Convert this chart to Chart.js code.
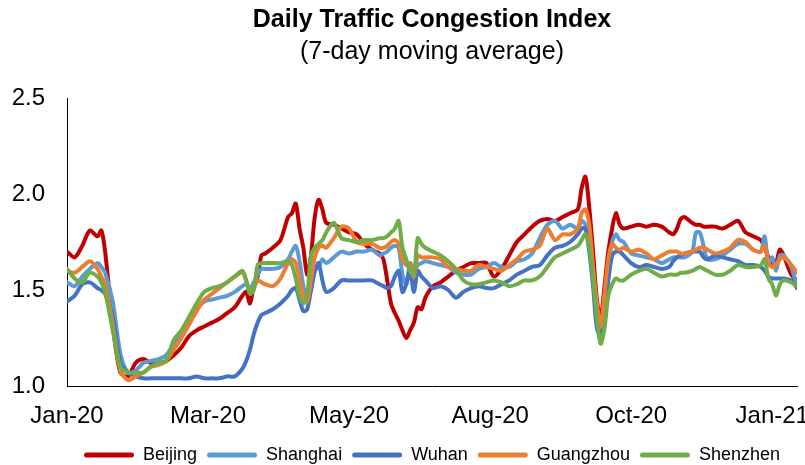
<!DOCTYPE html>
<html>
<head>
<meta charset="utf-8">
<script src="https://cdn.jsdelivr.net/npm/chart.js@4.4.1/dist/chart.umd.min.js"></script>
<style>
  html, body { margin: 0; padding: 0; background: #fff; }
  #wrap { width: 805px; height: 465px; }
</style>
</head>
<body>
<div id="wrap"><canvas id="trafficChart"></canvas></div>
<script>
// day offsets from 1 Jan 2020
const days = [
  0, 4, 8, 12, 16, 18, 20, 24,
  28, 32, 36, 40, 44, 48, 52, 56, 60, 64, 68, 72, 76, 80, 84, 88, 92,
  94, 96, 98, 100, 102, 104,
  108, 112, 116, 118, 120, 122, 124, 126, 128, 130, 132, 134, 136,
  140, 144, 148, 152, 156, 160, 164,
  166, 168, 170, 172, 174, 176, 178, 180, 182, 184, 186, 188,
  192, 196, 200, 204, 208, 212, 216, 220, 224, 228, 232, 236, 240, 244, 248, 252, 256, 260, 264, 268,
  270, 272, 274, 276, 278, 280, 282, 284, 286, 288, 290, 292,
  296, 300, 304, 308, 312, 316,
  318, 320, 322, 324,
  328, 330, 332, 334, 336,
  340, 344, 348, 352, 356, 360, 364,
  366, 368, 370, 372, 374, 376,
  380, 383
];

const tickDays = [0, 74, 148, 222, 296, 370];
const tickLabels = ['Jan-20', 'Mar-20', 'May-20', 'Aug-20', 'Oct-20', 'Jan-21'];

const beijing = [
  1.70, 1.67, 1.73, 1.81, 1.78, 1.81, 1.70, 1.32,
  1.07, 1.05, 1.12, 1.14, 1.12, 1.12, 1.13, 1.16, 1.20, 1.26, 1.29, 1.31, 1.33, 1.35, 1.38, 1.41, 1.47,
  1.49, 1.43, 1.52, 1.57, 1.68, 1.69,
  1.72, 1.76, 1.88, 1.90, 1.95, 1.82, 1.72, 1.58, 1.68, 1.88, 1.97, 1.92, 1.85,
  1.84, 1.82, 1.80, 1.79, 1.74, 1.71, 1.69,
  1.66, 1.55, 1.43, 1.38, 1.34, 1.29, 1.25, 1.29, 1.33, 1.41, 1.40, 1.46,
  1.52, 1.54, 1.57, 1.60, 1.62, 1.64, 1.64, 1.64, 1.57, 1.61, 1.68, 1.75, 1.79, 1.83, 1.86, 1.87, 1.86, 1.88, 1.90, 1.92,
  2.03, 2.09, 1.93, 1.70, 1.45, 1.35, 1.52, 1.70, 1.82, 1.90, 1.84, 1.82,
  1.83, 1.84, 1.83, 1.84, 1.83, 1.80,
  1.79, 1.82, 1.87, 1.88,
  1.85, 1.84, 1.84, 1.83, 1.83,
  1.83, 1.82, 1.84, 1.86, 1.80, 1.78, 1.76,
  1.72, 1.67, 1.63, 1.64, 1.71, 1.68,
  1.58, 1.55
];

const shanghai = [
  1.54, 1.52, 1.57, 1.61, 1.64, 1.62, 1.59, 1.44,
  1.17, 1.07, 1.08, 1.12, 1.13, 1.14, 1.16, 1.22, 1.27, 1.32, 1.40, 1.44, 1.45, 1.46, 1.47, 1.49, 1.52,
  1.53, 1.51, 1.54, 1.58, 1.61, 1.61,
  1.61, 1.62, 1.66, 1.70, 1.73, 1.65, 1.52, 1.46, 1.50, 1.60, 1.62, 1.66, 1.64,
  1.67, 1.70, 1.69, 1.70, 1.70, 1.71, 1.68,
  1.69, 1.70, 1.72, 1.73, 1.72, 1.58, 1.53, 1.64, 1.59, 1.63, 1.64, 1.65,
  1.64, 1.63, 1.62, 1.59, 1.58, 1.58, 1.61, 1.62, 1.64, 1.62, 1.62, 1.65, 1.66, 1.69, 1.77, 1.84, 1.86, 1.82, 1.84, 1.82,
  1.86, 1.84, 1.74, 1.55, 1.40, 1.30, 1.45, 1.62, 1.75, 1.79, 1.76, 1.75,
  1.69, 1.68, 1.67, 1.66, 1.64, 1.66,
  1.67, 1.67, 1.67, 1.67,
  1.70, 1.80, 1.80, 1.73, 1.66,
  1.66, 1.68, 1.71, 1.74, 1.74, 1.71, 1.70,
  1.78, 1.64, 1.67, 1.60, 1.68, 1.68,
  1.62, 1.51
];

const wuhan = [
  1.44, 1.47, 1.53, 1.54, 1.51, 1.50, 1.48, 1.36,
  1.12, 1.07, 1.05, 1.04, 1.04, 1.04, 1.04, 1.04, 1.04, 1.04, 1.05, 1.04, 1.04, 1.04, 1.05, 1.05, 1.09,
  1.13, 1.19, 1.27, 1.33, 1.37, 1.38,
  1.40, 1.43, 1.47, 1.50, 1.51, 1.45, 1.39, 1.40, 1.50, 1.60, 1.64, 1.55, 1.49,
  1.51, 1.55, 1.55, 1.55, 1.55, 1.55, 1.53,
  1.52, 1.51, 1.52, 1.57, 1.60, 1.49, 1.53, 1.60, 1.49, 1.60, 1.57, 1.55,
  1.51, 1.52, 1.50, 1.46, 1.49, 1.51, 1.52, 1.51, 1.51, 1.53, 1.55, 1.58, 1.60, 1.62, 1.63, 1.68, 1.72, 1.73, 1.75, 1.79,
  1.82, 1.82, 1.70, 1.52, 1.30, 1.26, 1.40, 1.55, 1.68, 1.70, 1.70, 1.68,
  1.64, 1.62, 1.63, 1.62, 1.61, 1.62,
  1.65, 1.67, 1.68, 1.69,
  1.70, 1.70, 1.70, 1.67, 1.66,
  1.68, 1.67, 1.66, 1.65, 1.63, 1.63, 1.62,
  1.60, 1.57, 1.56, 1.56, 1.56, 1.56,
  1.55, 1.51
];

const guangzhou = [
  1.60, 1.59, 1.62, 1.65, 1.61, 1.57, 1.53, 1.32,
  1.08, 1.03, 1.05, 1.07, 1.10, 1.11, 1.13, 1.19, 1.25, 1.32, 1.39, 1.45, 1.48, 1.51, 1.54, 1.57, 1.59,
  1.55, 1.49, 1.51, 1.55, 1.54, 1.53,
  1.52, 1.56, 1.64, 1.66, 1.64, 1.56, 1.47, 1.44, 1.55, 1.67, 1.72, 1.73, 1.72,
  1.77, 1.83, 1.82, 1.75, 1.74, 1.74, 1.72,
  1.72, 1.73, 1.75, 1.76, 1.74, 1.66, 1.63, 1.63, 1.57, 1.68, 1.67, 1.67,
  1.67, 1.66, 1.62, 1.61, 1.60, 1.60, 1.63, 1.62, 1.61, 1.60, 1.63, 1.66, 1.70, 1.71, 1.73, 1.82, 1.76, 1.79, 1.79, 1.82,
  1.90, 1.92, 1.84, 1.62, 1.43, 1.31, 1.48, 1.66, 1.74, 1.72, 1.71, 1.72,
  1.70, 1.71, 1.69, 1.66, 1.68, 1.70,
  1.70, 1.70, 1.69, 1.69,
  1.70, 1.71, 1.72, 1.72, 1.71,
  1.69, 1.70, 1.72, 1.76, 1.75, 1.71, 1.70,
  1.73, 1.64, 1.62, 1.63, 1.66, 1.67,
  1.63, 1.59
];

const shenzhen = [
  1.61, 1.56, 1.54, 1.59, 1.57, 1.54, 1.49, 1.29,
  1.10, 1.07, 1.07, 1.07, 1.10, 1.12, 1.13, 1.24, 1.29, 1.36, 1.43, 1.49, 1.51, 1.52, 1.54, 1.57, 1.60,
  1.55, 1.48, 1.50, 1.63, 1.64, 1.64,
  1.64, 1.64, 1.65, 1.63, 1.56, 1.47, 1.43, 1.47, 1.68, 1.72, 1.74, 1.76, 1.80,
  1.85, 1.77, 1.76, 1.75, 1.76, 1.76, 1.77,
  1.77, 1.78, 1.80, 1.82, 1.86, 1.72, 1.66, 1.60, 1.58, 1.77, 1.74, 1.72,
  1.70, 1.68, 1.65, 1.61, 1.55, 1.53, 1.53, 1.54, 1.55, 1.54, 1.52, 1.53, 1.55, 1.55, 1.57, 1.62, 1.67, 1.69, 1.71, 1.73,
  1.76, 1.79, 1.72, 1.56, 1.35, 1.22, 1.30, 1.47, 1.53, 1.56, 1.55, 1.55,
  1.58, 1.60, 1.61, 1.59, 1.57, 1.58,
  1.58, 1.58, 1.59, 1.59,
  1.60, 1.61, 1.62, 1.61, 1.60,
  1.58, 1.58, 1.60, 1.63, 1.62, 1.62, 1.63,
  1.66, 1.56, 1.53, 1.47, 1.53, 1.55,
  1.54, 1.52
];

const series = [
  { label: 'Beijing', values: beijing, color: '#C00000' },
  { label: 'Shanghai', values: shanghai, color: '#5B9BD5' },
  { label: 'Wuhan', values: wuhan, color: '#4472C4' },
  { label: 'Guangzhou', values: guangzhou, color: '#ED7D31' },
  { label: 'Shenzhen', values: shenzhen, color: '#70AD47' }
];

Chart.defaults.font.family = "'Liberation Sans', Arial, sans-serif";
Chart.defaults.color = '#000';

new Chart(document.getElementById('trafficChart').getContext('2d'), {
  type: 'line',
  data: {
    datasets: series.map((s, i) => ({
      label: s.label,
      data: days.map((d, j) => ({ x: d, y: s.values[j] })),
      borderColor: s.color,
      backgroundColor: s.color,
      borderWidth: 4,
      borderJoinStyle: 'round',
      borderCapStyle: 'round',
      pointRadius: 0,
      tension: 0.3,
      order: series.length - i // later series drawn on top, like the original
    }))
  },
  options: {
    responsive: true,
    maintainAspectRatio: false,
    animation: false,
    // negative bottom pad pushes the legend a bit lower, as in the original
    layout: { padding: { left: 0, right: 8, top: 0, bottom: -9 } },
    scales: {
      x: {
        type: 'linear',
        min: 0,
        max: 383,
        grid: { display: false },
        border: { color: '#000', width: 1 },
        ticks: {
          font: { size: 24 },
          padding: 8,
          maxRotation: 0,
          callback: (v) => tickLabels[tickDays.indexOf(v)]
        },
        afterBuildTicks: (axis) => { axis.ticks = tickDays.map(v => ({ value: v })); },
        afterFit: (axis) => {
          axis.paddingLeft = 0;
          axis.paddingRight = 0;
          axis.height = 50;
        }
      },
      y: {
        min: 1,
        max: 2.5,
        grid: { display: false },
        border: { color: '#000', width: 1 },
        ticks: {
          stepSize: 0.5,
          font: { size: 24 },
          padding: 14,
          callback: (v) => v.toFixed(1)
        },
        afterFit: (axis) => { axis.width = 67; }
      }
    },
    plugins: {
      title: {
        display: true,
        text: 'Daily Traffic Congestion Index',
        fullSize: false,
        color: '#000',
        font: { size: 25, weight: 'bold' },
        padding: { top: 5, bottom: 2 }
      },
      subtitle: {
        display: true,
        text: '(7-day moving average)',
        fullSize: false,
        color: '#000',
        font: { size: 25 },
        padding: { top: 0, bottom: 31 }
      },
      legend: {
        position: 'bottom',
        fullSize: false,
        labels: {
          boxWidth: 50,
          boxHeight: 5,
          padding: 10,
          font: { size: 18 },
          useBorderRadius: true,
          borderRadius: 2.5,
          sort: (a, b) => a.datasetIndex - b.datasetIndex,
          generateLabels: (chart) =>
            Chart.defaults.plugins.legend.labels.generateLabels(chart).map(l => ({ ...l, lineWidth: 0 }))
        }
      },
      tooltip: { enabled: false }
    }
  }
});
</script>
</body>
</html>
